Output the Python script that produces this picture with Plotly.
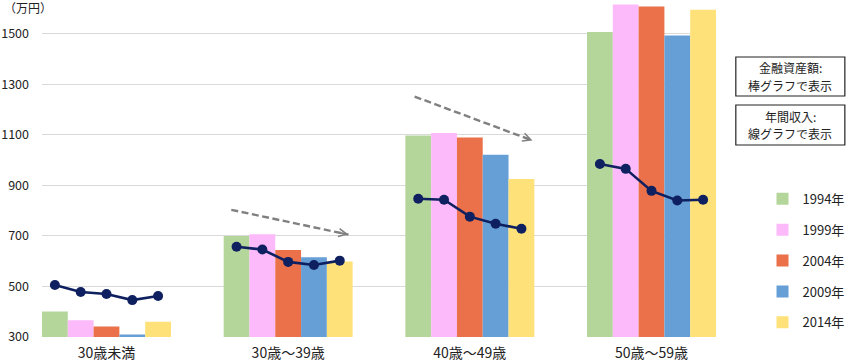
import math
import plotly.graph_objects as go

# ---- data ----
categories = ["30歳未満", "30歳～39歳", "40歳～49歳", "50歳～59歳"]
years = ["1994年", "1999年", "2004年", "2009年", "2014年"]
# financial assets (bars), 万円
assets_1994 = [401, 699, 1097, 1506]
assets_1999 = [366, 706, 1107, 1615]
assets_2004 = [342, 644, 1089, 1607]
assets_2009 = [310, 615, 1021, 1493]
assets_2014 = [360, 599, 925, 1594]
# annual income (line), 万円
income_1994 = [506, 657, 847, 984]
income_1999 = [478, 646, 843, 965]
income_2004 = [470, 597, 776, 878]
income_2009 = [446, 585, 748, 840]
income_2014 = [462, 602, 728, 843]
y_ticks = [300, 500, 700, 900, 1100, 1300, 1500]
note_lines = [["金融資産額:", "棒グラフで表示"], ["年間収入:", "線グラフで表示"]]

assets = [assets_1994, assets_1999, assets_2004, assets_2009, assets_2014]
incomes = [income_1994, income_1999, income_2004, income_2009, income_2014]
colors = ["#b4d69b", "#fdbafa", "#ea7149", "#659fd6", "#ffe179"]

FONT = "Noto Sans CJK JP"
TXT = "#222222"

bargap = 0.29
n = len(years)
bw = (1 - bargap) / n
x_range = [-0.355, len(categories) - 1 + 0.355]
y_range = [300, 1629]

fig = go.Figure()
for k in range(n):
    fig.add_trace(go.Bar(
        x=list(range(len(categories))), y=assets[k], name=years[k],
        marker=dict(color=colors[k], line=dict(width=0)),
        legendgroup=years[k],
    ))

# income line: one segment per age group, points at bar centres
lx, ly = [], []
for i in range(len(categories)):
    for k in range(n):
        lx.append(i + (k - (n - 1) / 2) * bw)
        ly.append(incomes[k][i])
    lx.append(None)
    ly.append(None)
fig.add_trace(go.Scatter(
    x=lx, y=ly, mode="lines+markers", showlegend=False,
    line=dict(color="#0f2060", width=2.6),
    marker=dict(color="#0f2060", size=10),
    connectgaps=False,
))

# dashed trend arrows (tail x, tail y, head x, head y)
arrow_tails_heads = [
    (0.687, 803, 1.332, 705),
    (1.696, 1251, 2.345, 1077),
]
plot_w, plot_h = 680, 336
px_x = plot_w / (x_range[1] - x_range[0])
px_y = plot_h / (y_range[1] - y_range[0])
shapes = []
annotations = []
for tx, ty, hx, hy in arrow_tails_heads:
    shapes.append(dict(type="line", xref="x", yref="y", x0=tx, y0=ty, x1=hx, y1=hy,
                       line=dict(color="#808080", width=2.4, dash="7px,3.5px")))
    dx = (tx - hx) * px_x
    dy = -(ty - hy) * px_y
    L = math.hypot(dx, dy)
    annotations.append(dict(x=hx, y=hy, xref="x", yref="y", text="", showarrow=True,
                            ax=dx / L * 9, ay=dy / L * 9, arrowhead=5, arrowsize=0.8,
                            arrowwidth=2.0, arrowcolor="#808080", standoff=0,
                            borderpad=0, font=dict(size=1)))

# y unit label
annotations.append(dict(text="（万円）", xref="paper", yref="paper", x=-40 / plot_w,
                        y=1 + 4 / plot_h, xanchor="left", yanchor="top", showarrow=False,
                        font=dict(family=FONT, size=12, color=TXT)))


def py(p):
    return 1 - (p - 1) / plot_h


def px(p):
    return (p - 39) / plot_w


# note boxes (outline + two text lines)
for (top, bottom), lines in zip([(57, 96), (105, 145)], note_lines):
    shapes.append(dict(type="rect", xref="paper", yref="paper",
                       x0=px(739), x1=px(849), y0=py(bottom), y1=py(top),
                       line=dict(color="#222222", width=1.2), fillcolor="white"))
    mid = (top + bottom) / 2
    for j, t in enumerate(lines):
        annotations.append(dict(text=t, xref="paper", yref="paper",
                                x=px(794), y=py(mid + (j - 0.5) * 17.8),
                                xanchor="center", yanchor="middle", showarrow=False,
                                font=dict(family=FONT, size=12, color=TXT)))

fig.update_layout(
    width=850, height=363,
    margin=dict(l=39, r=131, t=1, b=26, pad=0),
    paper_bgcolor="white", plot_bgcolor="white",
    barmode="group", bargap=bargap, bargroupgap=0,
    font=dict(family=FONT, color=TXT),
    shapes=shapes, annotations=annotations,
    legend=dict(x=1.069, y=0.456, xanchor="left", yanchor="top",
                font=dict(family=FONT, size=13, color=TXT),
                tracegroupgap=11, itemwidth=30, bgcolor="rgba(0,0,0,0)"),
    xaxis=dict(range=x_range, tickvals=list(range(len(categories))), ticktext=categories,
               showgrid=False, zeroline=False, showline=False, ticks="",
               ticklabelstandoff=6,
               tickfont=dict(family=FONT, size=14, color=TXT)),
    yaxis=dict(range=y_range, tickvals=y_ticks, showgrid=True, gridcolor="#d9d9d9",
               gridwidth=1.2, zeroline=False, showline=False, ticks="",
               ticklabelstandoff=12,
               tickfont=dict(family=FONT, size=12.5, color=TXT)),
)

fig.write_html("out.html", config={"displayModeBar": False},
               post_script="document.body.style.margin='0';")
